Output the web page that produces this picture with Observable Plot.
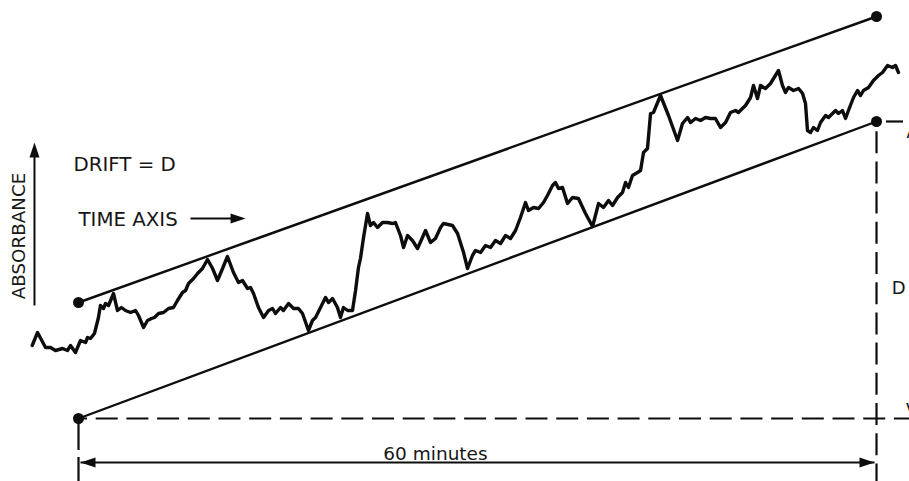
<!DOCTYPE html>
<html>
<head>
<meta charset="utf-8">
<script src="https://cdn.jsdelivr.net/npm/d3@7"></script>
<script src="https://cdn.jsdelivr.net/npm/@observablehq/plot@0.6"></script>
<style>
  html, body { margin: 0; padding: 0; background: #fff; overflow: hidden; }
</style>
</head>
<body>
<script>
// ---- Data (time in minutes, absorbance in mAU) ----
const traceMinutes = [
  -3.48,-3.08,-2.48,-2.11,-1.73,-1.20,-0.83,-0.60,-0.23,0.15,0.53,0.68,0.90,1.20,1.50,1.65,1.88,2.03,2.26,2.63,
  2.93,3.23,3.53,3.91,4.29,4.51,4.89,5.19,5.49,5.71,6.02,6.39,6.77,7.14,7.44,7.82,8.05,8.27,8.65,8.95,9.32,9.70,
  10.08,10.45,10.83,11.20,11.65,12.03,12.33,12.71,12.93,13.16,13.53,13.91,14.29,14.59,14.81,15.19,15.41,15.79,
  16.17,16.54,16.84,17.29,17.59,17.82,18.20,18.57,18.80,19.10,19.47,19.70,19.92,20.23,20.60,20.83,21.05,21.20,21.43,21.73,
  21.95,22.18,22.48,22.86,23.23,23.61,23.83,24.21,24.44,24.74,25.11,25.49,25.86,26.09,26.47,26.84,27.22,27.44,28.12,28.50,
  28.95,29.25,29.62,29.85,30.23,30.60,30.98,31.35,31.73,32.11,32.48,32.86,33.23,33.61,33.83,34.21,34.59,34.96,35.26,35.64,
  35.86,36.09,36.39,36.77,37.14,37.59,38.12,38.65,
  39.10,39.47,39.85,40.15,40.53,40.90,41.13,41.35,41.65,42.03,42.26,42.48,42.78,43.01,43.23,43.76,44.36,45.04,45.41,45.79,
  46.02,46.39,46.77,47.14,47.52,47.89,48.27,48.65,49.02,49.40,49.62,49.92,50.15,50.53,50.75,51.05,
  51.28,51.65,52.03,52.26,52.63,52.93,53.16,53.38,53.76,54.14,54.44,54.66,54.81,55.04,55.26,55.56,55.79,56.17,56.39,56.69,
  56.92,57.14,57.44,57.67,57.89,58.27,58.57,58.80,59.02,59.40,59.77,60.15,60.45,60.83,61.20,61.43,61.65
];
const traceAbsorbance = [
  7.3,8.6,7.1,7.1,6.8,7.0,6.8,7.3,6.6,7.8,7.6,8.1,8.0,8.5,10.1,11.3,11.0,11.5,11.3,12.5,
  10.8,11.1,10.8,10.6,10.8,10.3,9.1,9.8,10.0,10.1,10.5,10.6,11.0,11.1,11.8,12.6,12.8,13.5,14.0,14.5,15.0,15.9,
  15.0,13.8,15.0,16.2,14.6,13.6,13.8,13.0,13.1,12.5,11.1,10.1,10.8,11.0,10.5,11.1,10.8,11.5,
  11.0,11.0,10.5,8.8,9.8,10.1,11.1,12.1,11.6,12.0,11.1,10.1,11.1,10.8,10.8,12.8,15.1,16.0,18.1,20.5,
  19.3,19.6,19.1,19.6,19.6,19.5,19.6,18.3,17.1,18.3,17.8,17.0,18.1,18.8,17.6,18.0,19.1,19.5,19.3,18.5,
  16.6,15.0,16.3,16.8,16.6,17.3,17.1,17.8,17.5,18.3,18.0,18.8,20.1,21.6,20.8,21.1,21.0,21.6,22.3,23.3,
  23.6,23.0,23.1,21.5,22.1,22.0,20.5,19.2,
  21.5,21.1,21.8,21.3,22.1,22.6,23.6,23.1,24.3,24.6,24.8,26.6,27.0,30.5,30.6,32.3,30.3,27.8,29.5,30.1,
  29.6,30.0,29.8,30.1,30.0,30.0,29.1,29.6,30.6,30.8,30.6,31.0,31.3,32.1,33.3,32.0,
  33.3,33.0,33.5,34.0,34.8,33.3,32.6,33.1,32.8,33.0,32.5,31.5,28.8,28.6,29.1,28.8,29.6,30.3,30.1,30.5,
  30.8,30.5,30.8,30.0,30.8,32.1,32.8,32.3,32.8,33.1,33.8,34.3,34.6,35.3,35.1,35.3,34.6
];

// Envelope lines (start at 0 min, end at 60 min)
const spanMinutes = [0, 60];
const upperEnvelope = [11.6, 40.2];
const lowerEnvelope = [0, 29.7];   // end value = drift D

// Text labels
const labelText = ["DRIFT = D", "TIME AXIS", "60 minutes", "D", "A", "V"];

// ---- Build tables ----
const trace = traceMinutes.map((t, i) => ({t, a: traceAbsorbance[i]}));
const envelopes = [
  {t1: spanMinutes[0], a1: upperEnvelope[0], t2: spanMinutes[1], a2: upperEnvelope[1]},
  {t1: spanMinutes[0], a1: lowerEnvelope[0], t2: spanMinutes[1], a2: lowerEnvelope[1]}
];
const endpoints = [
  {t: spanMinutes[0], a: upperEnvelope[0]}, {t: spanMinutes[1], a: upperEnvelope[1]},
  {t: spanMinutes[0], a: lowerEnvelope[0]}, {t: spanMinutes[1], a: lowerEnvelope[1]}
];
const drift = lowerEnvelope[1];

const xMin = -5.865, xMax = 62.48, yMin = -6.3, yMax = 41.8;
const ink = "#0d0d0d";
const textInk = "#161616";

// filled arrowhead with its tip at the origin, pointing right
const head = {draw(ctx) { ctx.moveTo(0, 0); ctx.lineTo(-15, -5); ctx.lineTo(-15, 5); ctx.closePath(); }};

const arrowLines = [
  {t1: 0.15, a1: -4.4, t2: 59.85, a2: -4.4},     // 60 minute span
  {t1: 8.42, a1: 20.0, t2: 11.6, a2: 20.0},      // time axis arrow
  {t1: -3.31, a1: 11.3, t2: -3.31, a2: 26.6}     // absorbance arrow
];
const arrowHeads = [
  {t: 0.15, a: -4.4, r: 180},
  {t: 59.85, a: -4.4, r: 0},
  {t: 12.56, a: 20.0, r: 0},
  {t: -3.31, a: 27.6, r: -90}
];
const labels = [
  {t: -0.38, a: 24.8, s: labelText[0], size: 19.8, anchor: "start"},
  {t: 0.0, a: 19.3, s: labelText[1], size: 19.8, anchor: "start"},
  {t: 26.84, a: -4.1, s: labelText[2], size: 18.5, anchor: "middle"},
  {t: 61.15, a: 12.5, s: labelText[3], size: 18, anchor: "start"},
  {t: 62.26, a: 28.1, s: labelText[4], size: 17, anchor: "start"},
  {t: 62.22, a: 0.25, s: labelText[5], size: 17, anchor: "start"}
];

const chart = Plot.plot({
  width: 909,
  height: 481,
  margin: 0,
  style: {fontFamily: "DejaVu Sans", background: "#fff", overflow: "visible"},
  x: {domain: [xMin, xMax], axis: null},
  y: {domain: [yMin, yMax], axis: null},
  marks: [
    // dashed baseline and dashed verticals
    Plot.ruleY([0], {x1: 0, x2: xMax, stroke: ink, strokeWidth: 2.2, strokeDasharray: "22,8.7", strokeDashoffset: 13}),
    Plot.ruleX([60], {y1: drift, y2: yMin, stroke: ink, strokeWidth: 2.2, strokeDasharray: "22,8.2", strokeDashoffset: 20}),
    Plot.ruleX([0], {y1: 0, y2: yMin, stroke: ink, strokeWidth: 2.2, strokeDasharray: "32,7"}),
    Plot.ruleY([drift], {x1: 60.75, x2: 62.03, stroke: ink, strokeWidth: 2.2}),
    // envelope lines
    Plot.link(envelopes, {x1: "t1", y1: "a1", x2: "t2", y2: "a2", stroke: ink, strokeWidth: 2.4}),
    // noisy trace
    Plot.line(trace, {x: "t", y: "a", stroke: ink, strokeWidth: 3.4, strokeLinejoin: "round", strokeLinecap: "round"}),
    // endpoints
    Plot.dot(endpoints, {x: "t", y: "a", r: 5.5, fill: ink, stroke: "none"}),
    // arrows
    Plot.link(arrowLines, {x1: "t1", y1: "a1", x2: "t2", y2: "a2", stroke: ink, strokeWidth: 2}),
    Plot.dot(arrowHeads, {x: "t", y: "a", rotate: "r", symbol: head, fill: ink, stroke: "none"}),
    // labels
    ...labels.map(d => Plot.text([d], {x: "t", y: "a", text: "s", fontSize: d.size, textAnchor: d.anchor, lineAnchor: "bottom", fill: textInk})),
    Plot.text(["ABSORBANCE"], {x: -4.47, y: 18.25, text: d => d, rotate: -90, fontSize: 18.3, textAnchor: "middle", lineAnchor: "middle", fill: textInk})
  ]
});
document.body.appendChild(chart);
</script>
</body>
</html>
